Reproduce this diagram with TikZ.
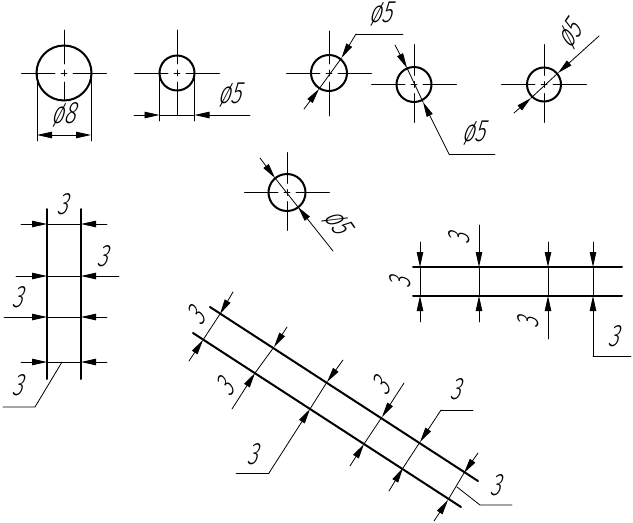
\documentclass[tikz,border=0pt]{standalone}
\usepackage{fontspec}
\usetikzlibrary{arrows.meta}
\newfontfamily\dimfont[FakeSlant=0.3,FakeStretch=0.7]{Fira Sans Light}
\begin{document}
\begin{tikzpicture}[x=1pt,y=-1pt,line cap=round]
        % Styles
        \tikzstyle{thin line}=[line width=0.8pt]
        \tikzstyle{outline}=[line width=2pt]
        \tikzstyle{arrowed}=[thin line,-{Triangle[length=15pt,width=6.5pt]}]
        \tikzstyle{dim text}=[inner sep=0pt,font=\dimfont\fontsize{31}{31}\selectfont]
        \useasboundingbox (0,0) rectangle (633,523);
        %circles with centre lines
        \foreach \cx/\cy/\rr/\up/\dn in {64/73/27.5/43/27,177/73/17.5/43/42,329/73/18/42/43,414/84.5/17.5/40/38,544/84.5/17/40/38,287/192.5/18.5/40/38}
        {
            \draw[outline] (\cx,\cy) circle (\rr);
            \draw[thin line] (\cx-42.5,\cy) -- (\cx-9,\cy) (\cx-3,\cy) -- (\cx+3,\cy) (\cx+9,\cy) -- (\cx+42.5,\cy);
            \draw[thin line] (\cx,\cy-\up) -- (\cx,\cy-9) (\cx,\cy-3) -- (\cx,\cy+3) (\cx,\cy+9) -- (\cx,\cy+\dn);
        }
        %extension lines
        \draw[thin line] (37,73) -- (37,141) (91,73) -- (91,141);
        \draw[thin line] (159.5,73) -- (159.5,121) (194.5,73) -- (194.5,121);
        %first diameter
        \draw[arrowed] (57,135) -- (37,135);
        \draw[arrowed] (72,135) -- (91,135);
        \draw[thin line] (57,135) -- (72,135);
        %strips
        \draw[outline] (47,209) -- (47,379) (81,209) -- (81,379);
        \draw[outline] (413,267) -- (622,267) (413,296) -- (622,296);
        \draw[outline] (210,307) -- (478,481) (193,333) -- (461,507);
        %dimension runs: far end, tip, tip, far end
        \foreach \ax/\ay/\sx/\sy/\tx/\ty/\bx/\by in {
            134/115/159.5/115/194.5/115/250/115,
            304/109/319/89/341.5/58/356/34,
            395/45/407/68/423/102/449/154,
            514/113/531/98/558/73/599/36,
            260/158/275/178/298/207/333/251,
            21/224/47/224/81/224/107/224,
            16/276/47/276/81/276/119/276,
            4/317/47/317/81/317/107/317,
            21/362/47/362/81/362/107/362,
            420/242/420/267/420/296/420/322,
            479/225/479/267/479/296/479/322,
            548/242/548/267/548/296/548/339,
            593/242/593/267/593/296/593/356,
            233/292/220/314/203/340/189/361,
            287/327/274/347/255/373/232/409,
            343/360/327/382/310/409/269/473,
            404/383/382/417/364/444/350/466,
            441/410/420/442/403/468/389/491,
            478/453/464/473/448/500/434/521}
        {
            \draw[arrowed] (\ax,\ay) -- (\sx,\sy);
            \draw[arrowed] (\bx,\by) -- (\tx,\ty);
            \draw[thin line] (\sx,\sy) -- (\tx,\ty);
        }
        %leaders
        \draw[thin line] (356,34) -- (403,34);
        \draw[thin line] (449,154) -- (495,154);
        \draw[thin line] (62,362) -- (35,407) -- (3,407);
        \draw[thin line] (593,356) -- (631,356);
        \draw[thin line] (269,473) -- (236,473);
        \draw[thin line] (441,410) -- (473,410);
        \draw[thin line] (457,487) -- (480,505) -- (512,505);
        %labels
        \node[dim text] (diam eight) at (63,115) {ø8};
        \node[dim text] (diam a) at (229,95) {ø5};
        \node[dim text] (diam b) at (380,14) {ø5};
        \node[dim text] (diam c) at (473,133) {ø5};
        \node[dim text,rotate=55] (diam d) at (570,35) {ø5};
        \node[dim text,rotate=-55] (diam e) at (337,222) {ø5};
        \node[dim text] (left top) at (62,204) {3};
        \node[dim text] (left mid) at (102,256) {3};
        \node[dim text] (left low) at (17,297) {3};
        \node[dim text] (left lead) at (17,385) {3};
        \node[dim text,rotate=90] (right top) at (459,239) {3};
        \node[dim text,rotate=90] (right side) at (400,283) {3};
        \node[dim text,rotate=90] (right low) at (528,323) {3};
        \node[dim text] (right lead) at (613,336) {3};
        \node[dim text,rotate=57] (band a) at (196,316) {3};
        \node[dim text,rotate=57] (band b) at (225,387) {3};
        \node[dim text,rotate=57] (band c) at (381,386) {3};
        \node[dim text] (band lead a) at (252,454) {3};
        \node[dim text] (band lead b) at (455,389) {3};
        \node[dim text] (band lead c) at (495,485) {3};
    \end{tikzpicture}
\end{document}
